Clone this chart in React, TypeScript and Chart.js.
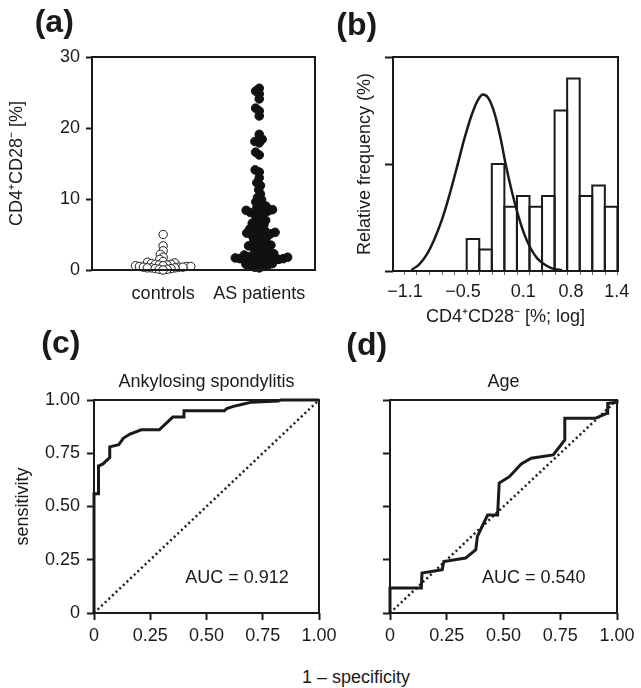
import React, { useEffect, useRef } from 'react';
import { Chart, registerables } from 'chart.js';
Chart.register(...registerables);

const FONT = "'Liberation Sans', Arial, Helvetica, sans-serif";
const INK = '#1a1a1a';
Chart.defaults.font.family = FONT;
Chart.defaults.font.size = 18;
Chart.defaults.color = INK;

// ---------- Panel (a): beeswarm ----------
const groupLabels = ['controls', 'AS patients'];
const groupPositions = [1, 2];
const controlsValues = [5.0, 3.4, 2.7, 2.2, 1.8, 1.5, 1.2, 1.1, 1.0, 0.9, 0.8, 0.8, 0.7, 0.7, 0.6, 0.6, 0.5, 0.5, 0.5, 0.4, 0.4, 0.4, 0.3, 0.3, 0.3, 0.2, 0.2, 0.1, 0.1, 0.0];
const asValues = [
  25.6, 25.2, 24.8, 24.1, 22.8, 22.4, 21.7, 19.1, 18.4, 18.1, 17.9, 16.6, 16.2, 14.1, 13.8, 13.0, 12.3, 11.9, 11.3, 10.7, 10.2,
  9.9, 9.6, 9.3, 9.0, 8.8, 8.6, 8.5, 8.4, 8.3, 8.2, 8.1, 8.0, 7.9,
  7.6, 7.3, 7.0, 6.8, 6.6, 6.4, 6.2, 6.0, 5.8,
  5.6, 5.5, 5.4, 5.3, 5.2, 5.1, 5.0, 5.0, 4.9, 4.7, 4.5, 4.3, 4.1,
  3.9, 3.7, 3.5, 3.4, 3.3, 3.2, 3.1, 2.9, 2.7, 2.5, 2.3,
  2.1, 2.0, 1.9, 1.9, 1.8, 1.8, 1.7, 1.7, 1.6, 1.6, 1.5, 1.5, 1.4, 1.4, 1.3, 1.2, 1.1, 1.0, 0.9, 0.8, 0.7, 0.6, 0.5, 0.4, 0.3,
];
const aYTicks = [0, 10, 20, 30];

// ---------- Panel (b): histogram + fitted curve ----------
const histFreq = [3, 2, 10, 6, 7, 6, 7, 15, 18, 7, 8, 6];
const fitX = [-4.4, -3.8, -3.2, -2.6, -2.0, -1.4, -0.8, -0.2, 0.4, 0.9, 1.3, 1.7, 2.2, 2.7, 3.1, 3.6, 4.1, 4.6, 5.1, 5.6, 6.2, 6.8, 7.6];
const fitY = [0.1, 0.6, 1.5, 2.9, 4.7, 7.0, 9.6, 12.3, 14.6, 16.0, 16.5, 16.2, 14.8, 12.4, 10.0, 7.4, 5.2, 3.4, 2.1, 1.2, 0.6, 0.25, 0.05];
const bTickPos = [-4.92, -0.29, 4.5, 8.3, 11.95];
const bTickLabels = ['\u22121.1', '\u22120.5', '0.1', '0.8', '1.4'];
const bYTicks = [0, 10, 20];

// ---------- Panel (c): ROC Ankylosing spondylitis ----------
const asFpr = [0, 0, 0.02, 0.02, 0.04, 0.06, 0.07, 0.07, 0.11, 0.13, 0.16, 0.21, 0.29, 0.33, 0.35, 0.40, 0.40, 0.58, 0.59, 0.62, 0.66, 0.70, 0.82, 0.83, 1.0];
const asTpr = [0, 0.56, 0.56, 0.69, 0.70, 0.72, 0.73, 0.78, 0.79, 0.82, 0.84, 0.86, 0.86, 0.90, 0.92, 0.92, 0.95, 0.95, 0.96, 0.97, 0.98, 0.99, 0.995, 1.0, 1.0];

// ---------- Panel (d): ROC Age ----------
const ageFpr = [0, 0, 0.138, 0.141, 0.23, 0.237, 0.333, 0.378, 0.385, 0.43, 0.474, 0.481, 0.526, 0.578, 0.622, 0.719, 0.77, 0.77, 0.904, 0.956, 0.959, 1.0, 1.0];
const ageTpr = [0, 0.117, 0.117, 0.1875, 0.203, 0.242, 0.258, 0.297, 0.36, 0.46, 0.46, 0.61, 0.64, 0.70, 0.727, 0.742, 0.8125, 0.914, 0.914, 0.9375, 0.984, 0.99, 1.0];

const chanceX = [0, 1];
const chanceY = [0, 1];
const rocTicks = [0, 0.25, 0.5, 0.75, 1];
const rocTickLabels = ['0', '0.25', '0.50', '0.75', '1.00'];

// ---------- layout constants ----------
const A_X_MIN = 0.26, A_X_MAX = 2.58, A_PLOT_W = 223, A_PLOT_H = 213;

function beeswarm(values: number[], center: number, diameter: number) {
  const pxX = A_PLOT_W / (A_X_MAX - A_X_MIN);
  const pxY = A_PLOT_H / 30;
  const idx = values.map((_, i) => i).sort((a, b) => values[a] - values[b]);
  const placed: { x: number; y: number }[] = [];
  const out: { x: number; y: number }[] = new Array(values.length);
  for (const i of idx) {
    const y = values[i] * pxY;
    const near = placed.filter((p) => Math.abs(p.y - y) < diameter);
    const cands = [0];
    near.forEach((p) => {
      const dx = Math.sqrt(diameter * diameter - (p.y - y) ** 2);
      cands.push(p.x + dx, p.x - dx);
    });
    cands.sort((a, b) => Math.abs(a) - Math.abs(b) || a - b);
    const x = cands.find((c) => near.every((p) => (p.x - c) ** 2 + (p.y - y) ** 2 >= diameter * diameter - 1e-6)) ?? 0;
    placed.push({ x, y });
    out[i] = { x: center + x / pxX, y: values[i] };
  }
  return out;
}

const framePlugin = {
  id: 'frame',
  afterDatasetsDraw(chart: any) {
    const { ctx, chartArea: a } = chart;
    ctx.save();
    ctx.strokeStyle = INK;
    ctx.lineWidth = 2;
    ctx.strokeRect(a.left, a.top, a.right - a.left, a.bottom - a.top);
    ctx.restore();
  },
};

// outlines of histogram bars, stroked on the bar elements' own geometry (shared edges stay 2px)
const barOutlinePlugin = {
  id: 'barOutline',
  afterDatasetDraw(chart: any, args: any) {
    const meta = args.meta;
    if (meta.type !== 'bar') return;
    const { ctx } = chart;
    ctx.save();
    ctx.strokeStyle = INK;
    ctx.lineWidth = 2;
    ctx.lineJoin = 'miter';
    meta.data.forEach((el: any) => {
      const { x, y, base, width } = el.getProps(['x', 'y', 'base', 'width'], true);
      const l = x - width / 2, r = x + width / 2;
      ctx.beginPath();
      ctx.moveTo(l, base);
      ctx.lineTo(l, y);
      ctx.lineTo(r, y);
      ctx.lineTo(r, base);
      ctx.stroke();
    });
    ctx.restore();
  },
};

// small minor tick marks at every histogram bin edge (decoration on the x axis)
const minorTickPlugin = {
  id: 'minorTicks',
  afterDraw(chart: any, _args: any, opts: any) {
    if (!opts || !opts.values) return;
    const { ctx, chartArea: a, scales } = chart;
    ctx.save();
    ctx.strokeStyle = '#666';
    ctx.lineWidth = 1;
    opts.values.forEach((v: number) => {
      const px = Math.round(scales.x.getPixelForValue(v)) + 0.5;
      ctx.beginPath();
      ctx.moveTo(px, a.bottom + 1);
      ctx.lineTo(px, a.bottom + 4);
      ctx.stroke();
    });
    ctx.restore();
  },
};

const aucPlugin = {
  id: 'auc',
  afterDatasetsDraw(chart: any, _args: any, opts: any) {
    if (!opts || !opts.text) return;
    const { ctx, scales } = chart;
    ctx.save();
    ctx.font = `18px ${FONT}`;
    ctx.fillStyle = INK;
    ctx.textBaseline = 'middle';
    ctx.textAlign = 'left';
    ctx.fillText(opts.text, scales.x.getPixelForValue(opts.x), scales.y.getPixelForValue(opts.y));
    ctx.restore();
  },
};

const baseOptions = {
  responsive: false,
  animation: false as const,
  events: [] as any[],
};

function gridTicks(len: number) {
  return { drawOnChartArea: false, drawTicks: true, tickLength: len, tickWidth: 2, tickColor: INK };
}

function makeA(): any {
  return {
    type: 'scatter',
    data: {
      datasets: [
        {
          data: beeswarm(controlsValues, groupPositions[0], 4),
          pointRadius: 4.2,
          pointBackgroundColor: '#ffffff',
          pointBorderColor: INK,
          pointBorderWidth: 1,
          clip: false,
        },
        {
          data: beeswarm(asValues, groupPositions[1], 4.6),
          pointRadius: 4.3,
          pointBackgroundColor: '#111111',
          pointBorderColor: '#111111',
          pointBorderWidth: 1,
          clip: false,
        },
      ],
    },
    options: {
      ...baseOptions,
      layout: { padding: { left: 0, top: 57, right: 15, bottom: 0 } },
      plugins: { legend: { display: false }, tooltip: { enabled: false } },
      scales: {
        x: {
          type: 'linear', min: A_X_MIN, max: A_X_MAX,
          afterBuildTicks: (s: any) => { s.ticks = groupPositions.map((v) => ({ value: v })); },
          ticks: { autoSkip: false, maxRotation: 0, padding: 13, callback: (_v: any, i: number) => groupLabels[i] },
          grid: { drawOnChartArea: false, drawTicks: false },
          border: { display: false },
          afterFit: (s: any) => { s.height = 60; },
        },
        y: {
          min: 0, max: 30,
          afterBuildTicks: (s: any) => { s.ticks = aYTicks.map((v) => ({ value: v })); },
          ticks: { padding: 6, callback: (v: any) => String(v) },
          grid: gridTicks(6),
          border: { display: false },
          title: { display: true, text: 'CD4\u207ACD28\u207B [%]', padding: { top: 5.8, bottom: 0 } },
          afterFit: (s: any) => { s.width = 92; },
        },
      },
    },
    plugins: [framePlugin],
  };
}

function makeB(): any {
  const binEdges = Array.from({ length: 18 }, (_, i) => i - 5);
  return {
    type: 'bar',
    data: {
      datasets: [
        {
          type: 'line',
          data: fitX.map((x, i) => ({ x, y: fitY[i] })),
          borderColor: INK,
          borderWidth: 2.5,
          pointRadius: 0,
          cubicInterpolationMode: 'monotone',
          fill: false,
          order: 0,
        },
        {
          type: 'bar',
          data: histFreq.map((y, i) => ({ x: i + 0.5, y })),
          backgroundColor: '#ffffff',
          borderWidth: 0,
          barPercentage: 1,
          categoryPercentage: 1,
          order: 1,
        },
      ],
    },
    options: {
      ...baseOptions,
      layout: { padding: { left: 0, top: 57, right: 23, bottom: 0 } },
      plugins: { legend: { display: false }, tooltip: { enabled: false }, minorTicks: { values: binEdges } },
      scales: {
        x: {
          type: 'linear', min: -5.87, max: 12.05, offset: false,
          afterBuildTicks: (s: any) => { s.ticks = bTickPos.map((v) => ({ value: v })); },
          ticks: {
            autoSkip: false, maxRotation: 0, padding: 10.6,
            callback: (_v: any, i: number) => bTickLabels[i],
          },
          grid: { offset: false, drawOnChartArea: false, drawTicks: false },
          border: { display: false },
          title: { display: true, text: 'CD4\u207ACD28\u207B [%; log]', padding: { top: 0, bottom: 2.2 } },
          afterFit: (s: any) => { s.height = 59; },
        },
        y: {
          min: 0, max: 20,
          afterBuildTicks: (s: any) => { s.ticks = bYTicks.map((v) => ({ value: v })); },
          ticks: { callback: () => '' },
          grid: gridTicks(8),
          border: { display: false },
          title: { display: true, text: 'Relative frequency (%)', padding: { top: 24.2, bottom: 0 } },
          afterFit: (s: any) => { s.width = 63; },
        },
      },
    },
    plugins: [barOutlinePlugin, framePlugin, minorTickPlugin],
  };
}

function makeRoc(fpr: number[], tpr: number[], title: string, auc: string, yLabels: boolean, yWidth: number, padRight: number): any {
  return {
    type: 'scatter',
    data: {
      datasets: [
        {
          data: fpr.map((x, i) => ({ x, y: tpr[i] })),
          showLine: true,
          borderColor: INK,
          borderWidth: 3,
          pointRadius: 0,
          clip: false,
          order: 0,
        },
        {
          data: chanceX.map((x, i) => ({ x, y: chanceY[i] })),
          showLine: true,
          borderColor: INK,
          borderWidth: 2.5,
          borderDash: [2, 3],
          borderCapStyle: 'butt',
          pointRadius: 0,
          order: 1,
        },
      ],
    },
    options: {
      ...baseOptions,
      layout: { padding: { left: 0, top: 0, right: padRight, bottom: 0 } },
      plugins: {
        legend: { display: false },
        tooltip: { enabled: false },
        title: {
          display: true, text: title, fullSize: false,
          font: { size: 18, weight: 'normal' }, color: INK,
          padding: { top: 10.8, bottom: 7.6 },
        },
        auc: { text: auc, x: 0.405, y: 0.165 },
      },
      scales: {
        x: {
          type: 'linear', min: 0, max: 1,
          afterBuildTicks: (s: any) => { s.ticks = rocTicks.map((v) => ({ value: v })); },
          ticks: { autoSkip: false, maxRotation: 0, padding: 5, callback: (_v: any, i: number) => rocTickLabels[i] },
          grid: gridTicks(7),
          border: { display: false },
          afterFit: (s: any) => { s.height = 47; },
        },
        y: {
          min: 0, max: 1,
          afterBuildTicks: (s: any) => { s.ticks = rocTicks.map((v) => ({ value: v })); },
          ticks: { padding: 7, callback: (_v: any, i: number) => (yLabels ? rocTickLabels[i] : '') },
          grid: gridTicks(7),
          border: { display: false },
          title: yLabels
            ? { display: true, text: 'sensitivity', padding: { top: 12.4, bottom: 0 } }
            : { display: false },
          afterFit: (s: any) => { s.width = yWidth; },
        },
      },
    },
    plugins: [framePlugin, aucPlugin],
  };
}

function ChartCanvas(props: { left: number; top: number; width: number; height: number; make: () => any }) {
  const ref = useRef<HTMLCanvasElement>(null);
  useEffect(() => {
    const chart = new Chart(ref.current as HTMLCanvasElement, props.make());
    return () => chart.destroy();
  }, []);
  const { left, top, width, height } = props;
  return (
    <canvas
      ref={ref}
      width={width}
      height={height}
      style={{ position: 'absolute', left, top, width, height }}
    />
  );
}

const letterStyle = (left: number, top: number): React.CSSProperties => ({
  position: 'absolute', left, top, fontSize: 32, lineHeight: '32px', fontWeight: 'bold', fontFamily: FONT, color: INK,
});

export default function App() {
  return (
    <div style={{ position: 'absolute', left: 0, top: 0, width: 641, height: 688, background: '#fff', overflow: 'hidden', fontFamily: FONT, color: INK }}>
      <ChartCanvas left={0} top={0} width={330} height={330} make={makeA} />
      <ChartCanvas left={330} top={0} width={311} height={330} make={makeB} />
      <ChartCanvas left={0} top={360} width={345} height={300}
        make={() => makeRoc(asFpr, asTpr, 'Ankylosing spondylitis', 'AUC = 0.912', true, 94, 26)} />
      <ChartCanvas left={330} top={360} width={311} height={300}
        make={() => makeRoc(ageFpr, ageTpr, 'Age', 'AUC = 0.540', false, 60, 24)} />
      <div style={letterStyle(34.7, 4.5)}>(a)</div>
      <div style={letterStyle(336.3, 7.9)}>(b)</div>
      <div style={letterStyle(41.3, 326.2)}>(c)</div>
      <div style={letterStyle(346.3, 327.9)}>(d)</div>
      <div style={{ position: 'absolute', left: 256, top: 668, width: 200, textAlign: 'center', fontSize: 18, lineHeight: '18px' }}>
        1 – specificity
      </div>
    </div>
  );
}
